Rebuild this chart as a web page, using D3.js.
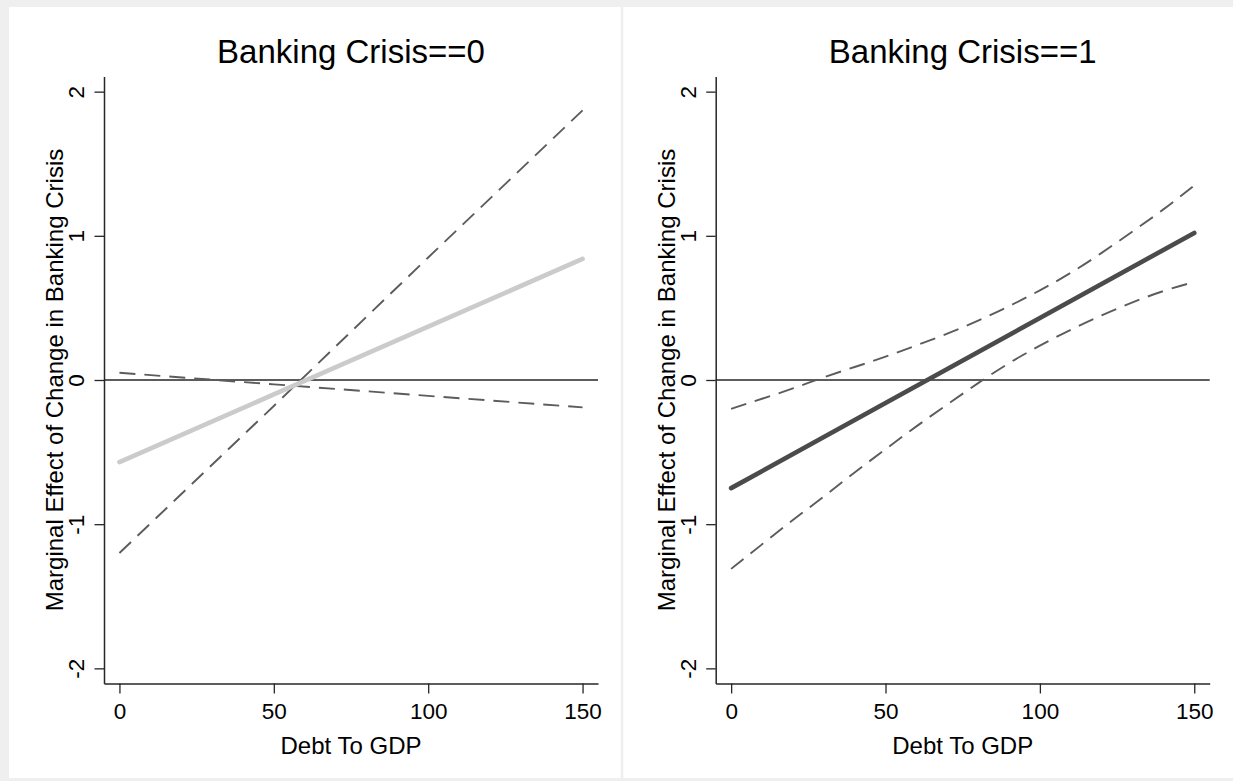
<!DOCTYPE html>
<html>
<head>
<meta charset="utf-8">
<script src="https://cdn.jsdelivr.net/npm/d3@7"></script>
<style>
  html, body { margin: 0; padding: 0; background: #efefef; }
  svg { display: block; }
  text { font-family: "Liberation Sans", Arial, Helvetica, sans-serif; fill: #000; }
</style>
</head>
<body>
<svg id="chart" width="1233" height="781"></svg>
<script>
// Axis ticks shared by both panels
const xTicks = [0, 50, 100, 150];
const yTicks = [-2, -1, 0, 1, 2];
const xTitle = "Debt To GDP";
const yTitle = "Marginal Effect of Change in Banking Crisis";
const panelTitles = ["Banking Crisis==0", "Banking Crisis==1"];

// Banking Crisis == 0
const debt0 = [0, 50, 100, 150];
const effect0 = [-0.57, -0.10, 0.37, 0.84];
const boundA0 = [-1.20, -0.18, 0.85, 1.87];
const boundB0 = [0.05, -0.03, -0.11, -0.19];

// Banking Crisis == 1
const effectDebt1 = [0, 50, 100, 150];
const effect1 = [-0.75, -0.16, 0.43, 1.02];
const debt1 = [0, 10, 20, 30, 40, 50, 60, 70, 80, 90, 100, 110, 120, 130, 140, 150];
const upper1 = [-0.20, -0.13, -0.06, 0.02, 0.09, 0.16, 0.24, 0.32, 0.41, 0.51, 0.62, 0.74, 0.88, 1.03, 1.18, 1.35];
const lower1 = [-1.31, -1.14, -0.97, -0.81, -0.64, -0.48, -0.32, -0.17, -0.02, 0.12, 0.24, 0.35, 0.45, 0.54, 0.62, 0.68];

const panels = [
  { title: panelTitles[0], effectDebt: debt0, effect: effect0, bandDebt: debt0, bands: [boundA0, boundB0],
    effectColor: "#cbcbcb", bandCurve: d3.curveLinear,
    box: [9, 7, 620.7, 778], plotLeft: 104, plotRight: 598 },
  { title: panelTitles[1], effectDebt: effectDebt1, effect: effect1, bandDebt: debt1, bands: [upper1, lower1],
    effectColor: "#4b4b4b", bandCurve: d3.curveBasis,
    box: [623.3, 7, 1233, 778], plotLeft: 715.7, plotRight: 1209.7 }
];

const svg = d3.select("#chart");
const plotTop = 76.5, plotBottom = 683.5;
const axisColor = "#262626";

svg.append("rect").attr("width", 1233).attr("height", 781).attr("fill", "#efefef");

panels.forEach(p => {
  svg.append("rect")
    .attr("x", p.box[0]).attr("y", p.box[1])
    .attr("width", p.box[2] - p.box[0]).attr("height", p.box[3] - p.box[1])
    .attr("fill", "#ffffff");

  const x = d3.scaleLinear().domain([-5, 155]).range([p.plotLeft, p.plotRight]);
  const y = d3.scaleLinear().domain([-2.105, 2.105]).range([plotBottom, plotTop]);
  const g = svg.append("g");

  // reference line at zero
  g.append("line")
    .attr("x1", p.plotLeft).attr("x2", p.plotRight)
    .attr("y1", y(0)).attr("y2", y(0))
    .attr("stroke", axisColor).attr("stroke-width", 1.7);

  // confidence bounds
  const bandLine = d3.line().x(d => x(d[0])).y(d => y(d[1])).curve(p.bandCurve);
  p.bands.forEach(b => {
    g.append("path")
      .attr("d", bandLine(p.bandDebt.map((v, i) => [v, b[i]])))
      .attr("fill", "none")
      .attr("stroke", "#5c5c5c")
      .attr("stroke-width", 1.9)
      .attr("stroke-dasharray", "16,9");
  });

  // marginal effect
  const effLine = d3.line().x(d => x(d[0])).y(d => y(d[1]));
  g.append("path")
    .attr("d", effLine(p.effectDebt.map((v, i) => [v, p.effect[i]])))
    .attr("fill", "none")
    .attr("stroke", p.effectColor)
    .attr("stroke-width", 4.6)
    .attr("stroke-linecap", "round");

  // x axis
  const xa = g.append("g")
    .attr("transform", `translate(0,${plotBottom})`)
    .call(d3.axisBottom(x).tickValues(xTicks).tickFormat(d => String(d))
      .tickSize(10).tickSizeOuter(0).tickPadding(9.5));
  xa.select(".domain").attr("stroke", axisColor).attr("stroke-width", 1.5);
  xa.selectAll(".tick line").attr("stroke", axisColor).attr("stroke-width", 1.3);
  xa.selectAll("text").style("font-size", "22.5px").attr("fill", "#000");

  // y axis with rotated labels
  const ya = g.append("g")
    .attr("transform", `translate(${p.plotLeft},0)`)
    .call(d3.axisLeft(y).tickValues(yTicks).tickFormat(d => String(d))
      .tickSize(9.5).tickSizeOuter(0));
  ya.select(".domain").attr("stroke", axisColor).attr("stroke-width", 1.5);
  ya.selectAll(".tick line").attr("stroke", axisColor).attr("stroke-width", 1.3);
  ya.selectAll("text")
    .style("font-size", "22.5px").attr("fill", "#000")
    .attr("x", null).attr("dy", "0.35em")
    .attr("text-anchor", "middle")
    .attr("transform", "translate(-27.5,0) rotate(-90)");

  const cx = (p.plotLeft + p.plotRight) / 2;

  // axis titles
  g.append("text")
    .attr("x", cx).attr("y", 754)
    .attr("text-anchor", "middle")
    .style("font-size", "24px")
    .text(xTitle);

  g.append("text")
    .attr("transform", `translate(${p.plotLeft - 49},${(plotTop + plotBottom) / 2}) rotate(-90)`)
    .attr("dy", "0.35em")
    .attr("text-anchor", "middle")
    .style("font-size", "24px")
    .text(yTitle);

  // panel title
  g.append("text")
    .attr("x", cx).attr("y", 63)
    .attr("text-anchor", "middle")
    .style("font-size", "33px")
    .text(p.title);
});
</script>
</body>
</html>
